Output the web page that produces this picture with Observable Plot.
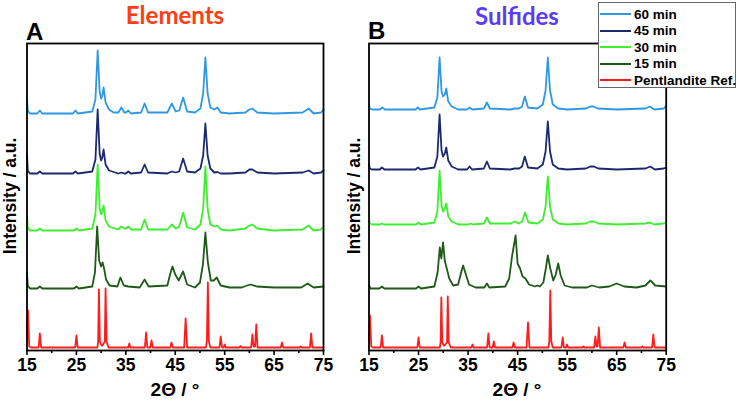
<!DOCTYPE html>
<html>
<head>
<meta charset="utf-8">
<script src="https://cdn.jsdelivr.net/npm/d3@7"></script>
<script src="https://cdn.jsdelivr.net/npm/@observablehq/plot@0.6"></script>
<style>
  html, body { margin: 0; padding: 0; background: #fff; }
  #wrap { position: relative; width: 738px; height: 402px; overflow: hidden; background: #fff; }
  #legend { position: absolute; left: 598px; top: 2px; width: 138px; height: 86px; border: 1px solid #666; background: #fff;
            font-family: "Liberation Sans", Arial, sans-serif; font-weight: bold; font-size: 13.5px; box-sizing: border-box; }
  #legend .row { position: absolute; left: 1px; height: 16px; display: flex; align-items: center; white-space: nowrap; }
  #legend .sw { width: 31px; height: 2px; margin-right: 3px; flex: none; }
</style>
</head>
<body>
<div id="wrap"></div>
<script>
// ---------- data ----------
const seriesNames = ["60 min", "45 min", "30 min", "15 min", "Pentlandite Ref."];
const seriesColors = ["#2f98e3", "#1b2a6e", "#3def2e", "#1e5a17", "#ff1c1c"];
const xTicks = [15, 25, 35, 45, 55, 65, 75];
const xMinorTicks = [20, 30, 40, 50, 60, 70];

// vertical offsets (baselines) of each pattern, a.u.
const offsetsA = [239, 179, 122, 64, 5];
const offsetsB = [243, 183, 128, 64, 5];

// Panel A (Elements): [2θ, intensity above baseline]
const a60 = [[15,15],[15.15,3],[15.6,0],[17.1,0],[17.6,3],[18.1,0],[24.3,0],[24.8,3],[25.3,0],[28.2,2],[28.85,14],[29.3,63],[29.7,22],[30.0,15],[30.25,18],[30.5,26],[30.9,11],[31.6,4],[32.5,1],[33.5,1],[34.1,6],[34.7,1],[35.0,1],[35.5,3],[36.0,0],[38.1,1],[38.8,10],[39.5,1],[43.4,1],[44.3,10],[45.1,2],[45.8,3],[46.6,16],[47.4,2],[49,1],[50.1,5],[50.65,20],[51.1,56],[51.55,20],[52.1,6],[52.9,4],[53.5,6],[54.2,1],[56,0],[59.2,1],[60.0,4],[60.6,5],[61.6,1],[65,0],[70.8,1],[72,5],[73,0],[74.5,1],[75,4]];
const a45 = [[15,20],[15.15,3],[15.6,0],[17.1,0],[17.6,2],[18.1,0],[24.3,0],[24.8,2],[25.3,0],[28.2,2],[28.85,14],[29.3,64],[29.7,20],[30.0,13],[30.25,16],[30.5,24],[30.9,9],[31.6,3],[33.5,0],[34.1,1],[34.7,0],[35.0,0],[35.5,2],[36.0,0],[38.1,1],[38.8,9],[39.5,1],[43.4,0],[44.3,2],[45.1,1],[45.8,2],[46.6,15],[47.4,2],[49,1],[50.1,5],[50.65,18],[51.1,50],[51.55,18],[52.1,5],[52.9,1],[53.5,1.5],[54.2,0],[56,0],[59.2,1],[60.0,4],[60.6,4],[61.6,1],[65,0],[70.8,1],[72,3],[73,0],[74.5,1],[75,3]];
const a30 = [[15,15],[15.15,3],[15.6,0],[17.1,0],[17.6,2],[18.1,0],[24.5,0],[25.0,2],[25.5,0],[28.2,2],[28.85,16],[29.3,66],[29.7,22],[30.0,16],[30.25,19],[30.5,25],[30.9,10],[31.6,4],[33.4,1],[34.1,4],[34.7,2],[35.0,2],[35.5,4],[36.1,1],[38.1,1],[38.8,11],[39.5,1],[43.4,1],[44.3,6],[45.1,2],[45.8,4],[46.6,18],[47.4,3],[49,1],[50.1,6],[50.65,22],[51.1,64],[51.55,22],[52.1,6],[52.9,4],[53.5,5],[54.2,1],[56,0],[59.2,2],[60.0,5],[60.6,6],[61.6,2],[65,0],[70.8,1],[72,5],[73,0],[74.5,1],[75,3]];
const a15 = [[15,16],[15.15,3],[15.6,0],[17.1,0],[17.6,2],[18.1,0],[24.5,0],[25.0,2],[25.5,0],[28.2,2],[28.75,16],[29.2,62],[29.6,28],[30.0,22],[30.3,26],[30.6,20],[31.0,9],[31.7,3],[33.3,2],[33.9,11],[34.6,3],[35.5,2],[37.8,1],[38.8,9],[39.6,2],[43.4,3],[44.0,15],[44.45,22],[45.0,14],[45.7,8],[46.6,17],[47.4,4],[49,1],[50.0,6],[50.6,24],[51.1,56],[51.6,26],[52.2,8],[52.8,8],[53.4,11],[54.2,3],[56,1],[58.5,1],[59.5,3],[60.3,4],[61.5,2],[65,1],[70.5,1],[71.8,5],[73,1],[75,2]];
const aRef = [[15,8],[15.2,37],[15.45,1],[15.8,0],[17.35,0],[17.6,14],[17.85,0],[24.75,0],[25.0,12],[25.25,0],[29.25,0],[29.4,6],[29.55,58],[29.75,6],[30.1,2],[30.25,2],[30.75,6],[30.9,59],[31.1,6],[31.5,0],[35.5,0],[35.7,4],[35.9,0],[38.85,0],[39.1,15],[39.35,0],[39.95,0],[40.2,7],[40.45,0],[44.0,0],[44.25,5],[44.5,0],[46.8,0],[47.1,29],[47.4,0],[51.2,0],[51.4,6],[51.6,65],[51.8,6],[52.1,0],[53.95,0],[54.2,11],[54.45,0],[54.8,0],[55,3],[55.2,0],[58.0,0],[58.2,1.5],[58.4,0],[60.35,0],[60.6,13],[60.85,1],[61.15,1],[61.4,23],[61.65,0],[66.35,0],[66.6,5],[66.85,0],[70.2,0],[70.4,1],[70.6,0],[72.25,0],[72.5,14],[72.75,0],[75,0]];

// Panel B (Sulfides)
const b60 = [[15,5],[15.15,1],[15.6,0],[17.2,0],[17.7,2],[18.2,0],[24.4,0],[24.85,2],[25.3,0],[28.2,2],[28.8,12],[29.25,52],[29.65,18],[29.95,13],[30.3,15],[30.6,21],[31.0,8],[31.7,3],[33,0],[34.8,0],[35.3,2],[35.8,0],[38.2,1],[38.8,7],[39.4,1],[43.5,0],[44.4,1],[45.3,1],[45.9,3],[46.45,13],[47.1,2],[49,1],[50.1,5],[50.65,19],[51.1,52],[51.55,19],[52.1,5],[53.2,1],[55,0],[58.8,1],[59.7,3],[60.3,3],[61.2,1],[65,0],[70.8,1],[71.7,3],[72.6,0],[74.5,1],[75,4]];
const b45 = [[15,5],[15.15,1],[15.6,0],[17.2,0],[17.6,2],[18.1,0],[24.4,0],[24.9,2],[25.4,0],[28.2,2],[28.8,13],[29.25,55],[29.65,19],[29.95,13],[30.3,16],[30.6,22],[31.0,9],[31.7,3],[33,0],[34.8,0],[35.3,3],[35.8,0],[38.2,1],[38.8,8],[39.4,1],[43.5,0],[44.4,1],[45.3,1],[45.9,3],[46.45,13],[47.1,2],[49,1],[50.1,5],[50.65,18],[51.1,48],[51.55,18],[52.1,5],[53.2,1],[55,0],[58.8,1],[59.7,3],[60.4,3],[61.3,1],[65,0],[70.8,1],[71.8,3],[72.7,0],[74.5,1],[75,2]];
const b30 = [[15,4],[15.15,1],[15.6,0],[17.2,0],[17.6,1],[18.1,0],[24.5,0],[25.0,2],[25.5,0],[28.2,2],[28.8,13],[29.25,54],[29.65,19],[29.95,13],[30.3,16],[30.6,21],[31.0,8],[31.7,3],[33,0],[35.0,0],[35.5,1],[36.0,0],[38.2,1],[38.8,7],[39.4,1],[43.6,1],[44.4,3],[45.2,1],[45.9,3],[46.5,12],[47.2,2],[49,1],[50.1,5],[50.65,18],[51.1,48],[51.55,18],[52.1,5],[53.3,1],[55,0],[58.8,1],[59.7,3],[60.4,3],[61.3,1],[65,0],[70.8,1],[71.7,2],[72.6,0],[74.5,1],[75,2]];
const b15 = [[15,3],[15.3,0],[17.1,0],[17.6,2],[18.1,0],[24.5,0],[25.0,2],[25.5,0],[28.2,2],[28.85,16],[29.3,41],[29.6,30],[29.95,46],[30.3,28],[30.7,20],[31.2,10],[32,3],[33.0,4],[33.6,16],[34.0,23],[34.5,15],[35.2,4],[36.5,1],[38.3,1],[38.8,5],[39.3,1],[42.5,2],[43.3,10],[43.9,33],[44.6,53],[45.0,25],[45.5,20],[46.0,12],[46.6,10],[47.3,4],[48.5,2],[49.0,3],[49.5,2],[50.2,6],[50.7,20],[51.1,33],[51.6,20],[52.2,8],[52.7,14],[53.2,25],[53.7,13],[54.5,3],[56,1],[59,1],[60.0,3],[61.5,1],[63.5,2],[65,5],[66.5,2],[69,1],[70.8,3],[71.8,8],[72.8,3],[75,2]];
const bRef = [[15,7],[15.2,32],[15.45,1],[15.8,0],[17.35,0],[17.6,12],[17.85,0],[24.75,0],[25.0,10],[25.25,0],[29.3,0],[29.45,5],[29.6,50],[29.8,5],[30.1,2],[30.25,2],[30.75,5],[30.9,51],[31.1,5],[31.5,0],[35.7,0],[35.9,3],[36.1,0],[38.85,0],[39.1,14],[39.35,0],[39.95,0],[40.2,6],[40.45,0],[43.95,0],[44.2,5],[44.45,0],[46.8,0],[47.1,25],[47.4,0],[51.2,0],[51.4,6],[51.6,57],[51.8,6],[52.1,0],[53.85,0],[54.1,10],[54.35,0],[54.8,0],[55,3],[55.2,0],[58.1,0],[58.3,1],[58.5,0],[60.45,0],[60.7,11],[60.95,1],[61.15,1],[61.4,20],[61.65,0],[66.35,0],[66.6,5],[66.85,0],[70.0,0],[70.2,1],[70.4,0],[72.15,0],[72.4,13],[72.65,0],[75,0]];

const panelA = [a60, a45, a30, a15, aRef];
const panelB = [b60, b45, b30, b15, bRef];

// ---------- build ----------
function rows(curves, offsets) {
  const out = [];
  curves.forEach((pts, i) => {
    pts.forEach(([x, h]) => out.push({series: seriesNames[i], x, y: offsets[i] + h}));
  });
  return out;
}

const fontFam = '"Liberation Sans", Arial, sans-serif';

function panel(data, width, marginLeft, marginRight) {
  return Plot.plot({
    width, height: 402,
    marginLeft, marginRight, marginTop: 43, marginBottom: 52,
    style: {fontFamily: fontFam, fontWeight: "bold", fontSize: "17.5px", background: "transparent", overflow: "visible", color: "#000"},
    x: {domain: [15, 75], axis: null},
    y: {domain: [2, 309], axis: null},
    color: {domain: seriesNames, range: seriesColors},
    marks: [
      Plot.line(data, {x: "x", y: "y", z: "series", stroke: "series", strokeWidth: 1.8, curve: "linear"}),
      Plot.axisX({ticks: xMinorTicks, tickSize: 3, tickFormat: () => "", strokeWidth: 1.6, label: null}),
      Plot.axisX({ticks: xTicks, tickSize: 5, tickPadding: 3, strokeWidth: 1.6, label: null, fontSize: 17.5, fontWeight: "bold"}),
      Plot.frame({stroke: "#000", strokeWidth: 1.8})
    ]
  });
}

const wrap = document.getElementById("wrap");
function place(el, left) {
  el.style.position = "absolute";
  el.style.left = left + "px";
  el.style.top = "0px";
  el.style.maxWidth = "none";
  wrap.appendChild(el);
}
place(panel(rows(panelA, offsetsA), 369, 26.5, 46), 0);
place(panel(rows(panelB, offsetsB), 369, 0.5, 71.3), 368);

// ---------- text overlays ----------
const ov = d3.select(wrap).append("svg")
  .attr("width", 738).attr("height", 402)
  .style("position", "absolute").style("left", "0px").style("top", "0px")
  .style("overflow", "visible");

const titles = [
  {t: "Elements", x: 175, y: 24, c: "#ff3d12"},
  {t: "Sulfides", x: 517, y: 25, c: "#5a3cf2"}
];
ov.selectAll("text.title").data(titles).join("text")
  .attr("class", "title")
  .attr("x", d => d.x).attr("y", d => d.y)
  .attr("text-anchor", "middle")
  .attr("fill", d => d.c)
  .style("font-family", 'Lato, "Open Sans", sans-serif')
  .style("font-weight", "bold").style("font-size", "24px")
  .text(d => d.t);

const letters = [{t: "A", x: 26, y: 40}, {t: "B", x: 368, y: 39}];
ov.selectAll("text.letter").data(letters).join("text")
  .attr("class", "letter")
  .attr("x", d => d.x).attr("y", d => d.y)
  .style("font-family", fontFam).style("font-weight", "bold").style("font-size", "24px")
  .text(d => d.t);

const xLabels = [{x: 175}, {x: 517}];
ov.selectAll("text.xl").data(xLabels).join("text")
  .attr("class", "xl")
  .attr("x", d => d.x).attr("y", 396)
  .attr("text-anchor", "middle")
  .style("font-family", fontFam).style("font-weight", "bold").style("font-size", "19px")
  .text("2\u0398 / \u00B0");

const yLabels = [{x: 16}, {x: 360}];
ov.selectAll("text.yl").data(yLabels).join("text")
  .attr("class", "yl")
  .attr("transform", d => `translate(${d.x},196) rotate(-90)`)
  .attr("text-anchor", "middle")
  .style("font-family", fontFam).style("font-weight", "bold").style("font-size", "17.5px")
  .text("Intensity / a.u.");

// ---------- legend ----------
const leg = document.createElement("div");
leg.id = "legend";
seriesNames.forEach((name, i) => {
  const row = document.createElement("div");
  row.className = "row";
  row.style.top = (3 + i * 16.5) + "px";
  const sw = document.createElement("div");
  sw.className = "sw";
  sw.style.background = seriesColors[i];
  const lab = document.createElement("span");
  lab.textContent = name;
  row.appendChild(sw); row.appendChild(lab);
  leg.appendChild(row);
});
wrap.appendChild(leg);
</script>
</body>
</html>
